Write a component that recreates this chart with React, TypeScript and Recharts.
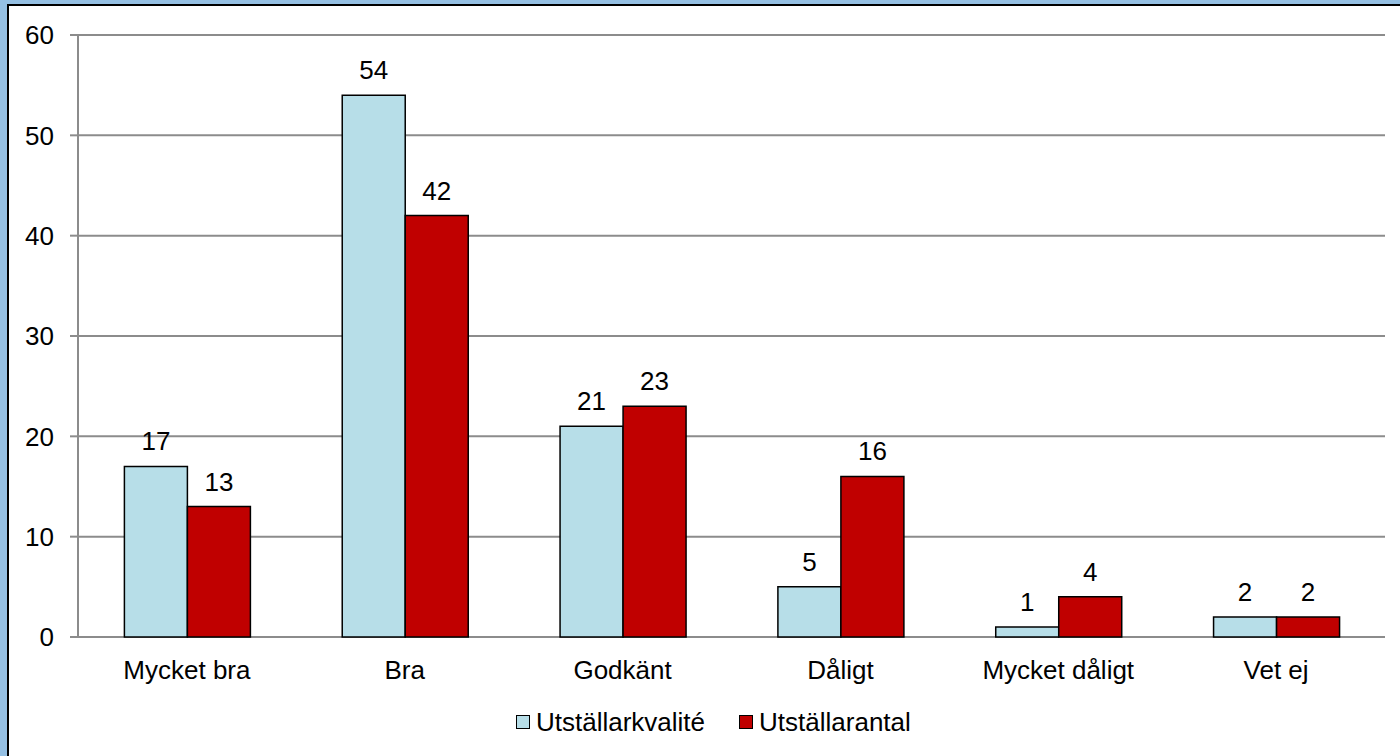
import { BarChart, Bar, XAxis, YAxis, CartesianGrid, LabelList } from 'recharts';

const categories = ['Mycket bra', 'Bra', 'Godkänt', 'Dåligt', 'Mycket dåligt', 'Vet ej'];
const kvalite = [17, 54, 21, 5, 1, 2];
const antal = [13, 42, 23, 16, 4, 2];
const yTicks = [0, 10, 20, 30, 40, 50, 60];
const edgeTicks = [0, 1, 2, 3, 4, 5, 6];

const chartData = categories.map((name, i) => ({
  name,
  kvalite: kvalite[i],
  antal: antal[i],
  pos: i + 0.5,
}));

const FONT = '"Liberation Sans", Arial, sans-serif';
const LIGHT = '#B7DEE8';
const RED = '#C00000';
const GRID = '#8C8C8C';

function LegendItem({ color, label }: { color: string; label: string }) {
  return (
    <div style={{ display: 'flex', alignItems: 'center', marginRight: 34 }}>
      <div
        style={{
          width: 12,
          height: 12,
          background: color,
          border: '1.5px solid #000',
          marginRight: 6,
        }}
      />
      <span style={{ fontSize: 26, color: '#000' }}>{label}</span>
    </div>
  );
}

export default function App() {
  return (
    <div
      style={{
        position: 'fixed',
        left: 0,
        top: 0,
        width: 1400,
        height: 756,
        background: '#95C0E3',
        overflow: 'hidden',
        fontFamily: FONT,
      }}
    >
      <div
        style={{
          position: 'absolute',
          left: 7,
          top: 4,
          width: 1400,
          height: 760,
          background: '#fff',
          borderLeft: '2px solid #000',
          borderTop: '2px solid #000',
        }}
      />
      <div style={{ position: 'absolute', left: 0, top: 0 }}>
        <BarChart
          width={1400}
          height={756}
          data={chartData}
          margin={{ top: 35, right: 15, left: 0, bottom: 79 }}
          barCategoryGap="21.3%"
          barGap={0}
        >
          <CartesianGrid vertical={false} stroke={GRID} strokeWidth={2} />
          <XAxis
            dataKey="name"
            xAxisId="cat"
            height={40}
            axisLine={false}
            tickLine={false}
            tickMargin={18}
            tick={{ fill: '#000', fontSize: 26, fontFamily: FONT }}
          />
          <XAxis
            dataKey="pos"
            xAxisId="edges"
            type="number"
            domain={[0, 6]}
            ticks={edgeTicks}
            height={0}
            tick={false}
            axisLine={{ stroke: GRID, strokeWidth: 2 }}
            tickLine={{ stroke: GRID, strokeWidth: 2 }}
            tickSize={7}
          />
          <YAxis
            width={78}
            domain={[0, 60]}
            ticks={yTicks}
            interval={0}
            axisLine={{ stroke: GRID, strokeWidth: 2 }}
            tickLine={{ stroke: GRID, strokeWidth: 2 }}
            tickSize={8}
            tickMargin={16}
            tick={{ fill: '#000', fontSize: 26, fontFamily: FONT }}
          />
          <Bar
            dataKey="kvalite"
            xAxisId="cat"
            fill={LIGHT}
            stroke="#000"
            strokeWidth={1.5}
            isAnimationActive={false}
          >
            <LabelList
              dataKey="kvalite"
              position="top"
              offset={16}
              fill="#000"
              fontSize={26}
              fontFamily={FONT}
            />
          </Bar>
          <Bar
            dataKey="antal"
            xAxisId="cat"
            fill={RED}
            stroke="#000"
            strokeWidth={1.5}
            isAnimationActive={false}
          >
            <LabelList
              dataKey="antal"
              position="top"
              offset={16}
              fill="#000"
              fontSize={26}
              fontFamily={FONT}
            />
          </Bar>
        </BarChart>
      </div>
      <div
        style={{
          position: 'absolute',
          left: 516,
          top: 705,
          display: 'flex',
          alignItems: 'center',
          height: 34,
        }}
      >
        <LegendItem color={LIGHT} label="Utställarkvalité" />
        <LegendItem color={RED} label="Utställarantal" />
      </div>
    </div>
  );
}
